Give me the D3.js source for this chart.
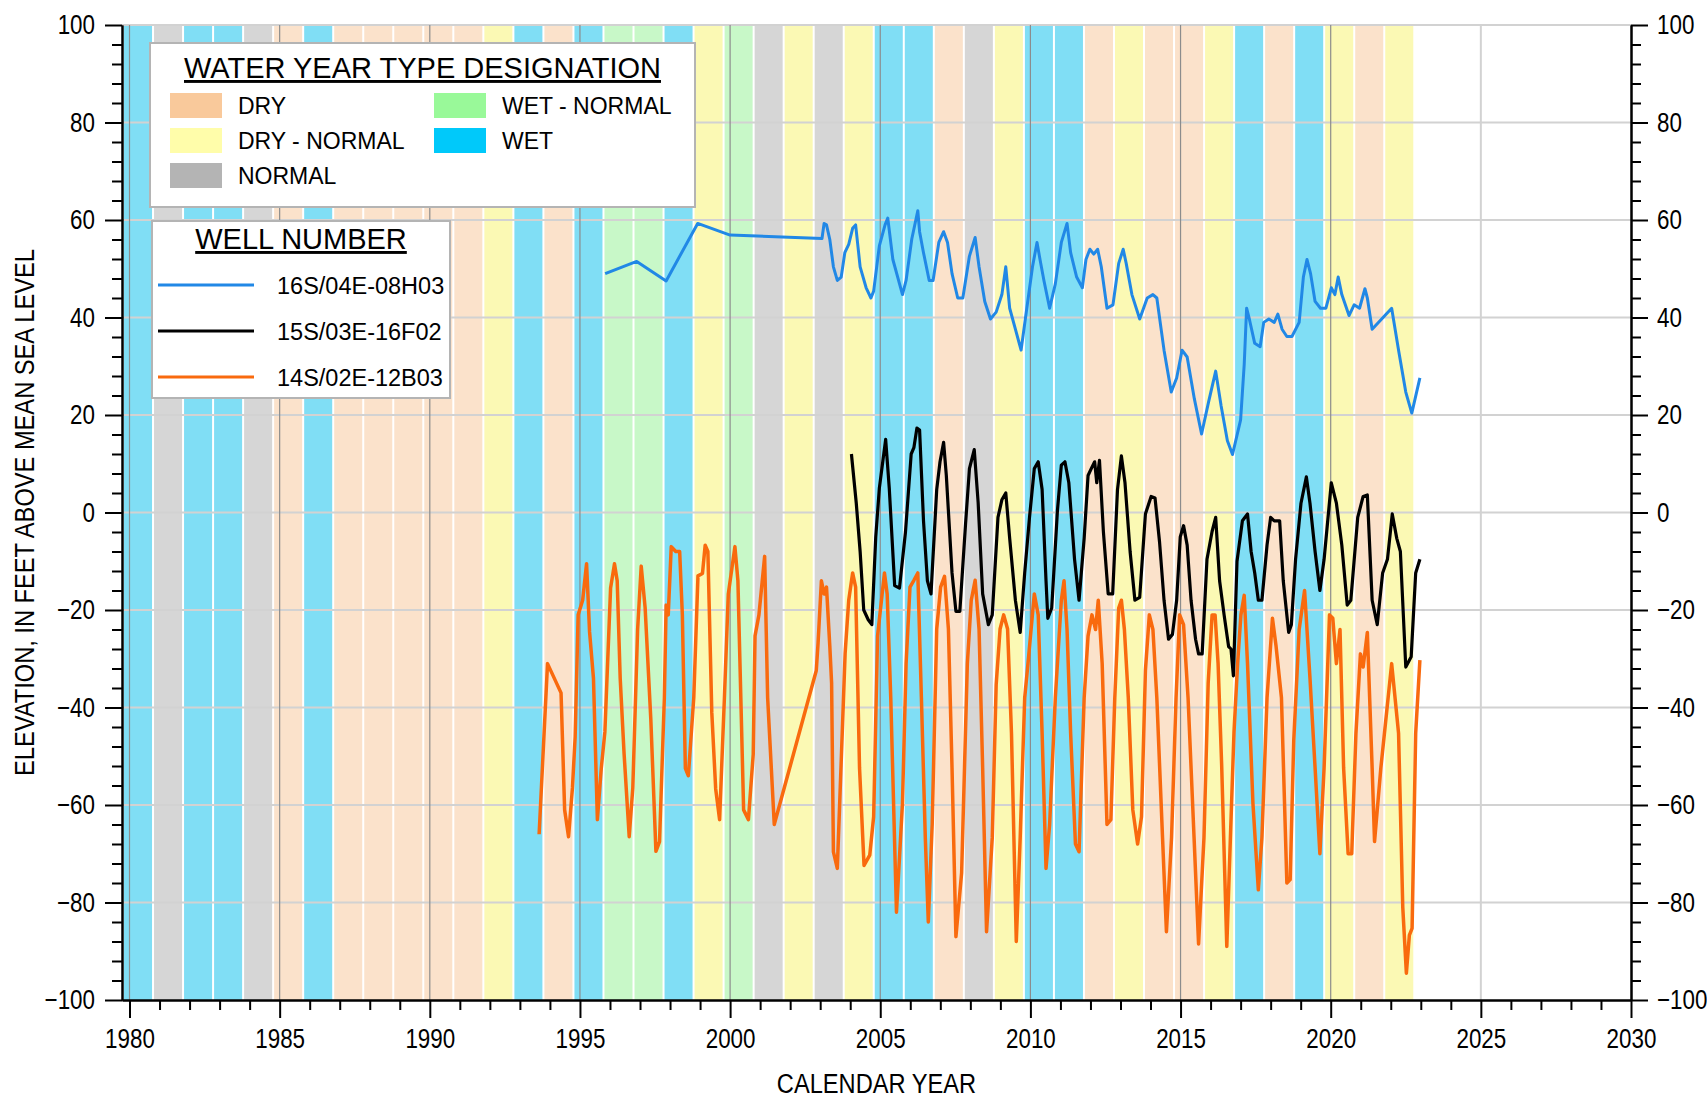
<!DOCTYPE html>
<html>
<head>
<meta charset="utf-8">
<script src="https://cdn.jsdelivr.net/npm/d3@7"></script>
<style>
  body { margin: 0; background: #fff; }
  svg { display: block; font-family: "Liberation Sans", Arial, sans-serif; }
</style>
</head>
<body>
<svg id="chart" width="1707" height="1097"></svg>
<script>
// water year type per water year (Oct - Sep)
const waterYears = d3.range(1980, 2023);
const yearTypes = [
  "WET", "NORMAL", "WET", "WET", "NORMAL", "DRY", "WET", "DRY", "DRY", "DRY",
  "DRY", "DRY", "DRY - NORMAL", "WET", "DRY", "WET", "WET - NORMAL", "WET - NORMAL", "WET", "DRY - NORMAL",
  "WET - NORMAL", "NORMAL", "DRY - NORMAL", "NORMAL", "DRY - NORMAL", "WET", "WET", "DRY", "NORMAL", "DRY - NORMAL",
  "WET", "WET", "DRY", "DRY - NORMAL", "DRY", "DRY", "DRY - NORMAL", "WET", "DRY", "WET",
  "DRY - NORMAL", "DRY", "DRY - NORMAL"
];

// legend order
const typeNames = ["DRY", "DRY - NORMAL", "NORMAL", "WET - NORMAL", "WET"];
const wellNames = ["16S/04E-08H03", "15S/03E-16F02", "14S/02E-12B03"];

// axis ticks
const yMajor = d3.range(-100, 101, 20);
const yMinor = d3.range(-100, 101, 4).filter(v => v % 20 != 0);
const xMajor = d3.range(1980, 2031, 5);
const xMinor = d3.range(1980, 2031, 1).filter(v => v % 5 != 0);

// well 16S/04E-08H03  [decimal year, elevation]
const well1 = [
  [1995.84,49],[1996.89,51.5],[1997.87,47.5],[1998.92,59.3],[2000.0,56.9],[2003.06,56.2],[2003.13,59.3],[2003.21,59.0],
  [2003.32,56],[2003.44,50.4],[2003.57,47.6],[2003.7,48.3],[2003.82,53.3],[2003.95,55],[2004.08,58.3],[2004.18,59],
  [2004.33,50.4],[2004.53,46.1],[2004.69,44],[2004.78,45.4],[2004.97,54.7],[2005.16,59],[2005.25,60.4],[2005.42,51.9],
  [2005.61,47.6],[2005.74,44.7],[2005.86,47.6],[2006.05,56.1],[2006.25,61.9],[2006.31,57.6],[2006.44,53.3],[2006.63,47.6],
  [2006.76,47.6],[2006.95,55.4],[2007.11,57.6],[2007.24,55.4],[2007.39,49],[2007.58,44],[2007.75,44],[2007.97,52.6],
  [2008.16,56.4],[2008.29,50.4],[2008.48,43.3],[2008.67,39.7],[2008.86,41.1],[2009.05,44.7],[2009.18,50.4],[2009.31,41.9],
  [2009.5,37.6],[2009.69,33.3],[2009.88,41.9],[2010.07,50.4],[2010.22,55.4],[2010.32,51.9],[2010.45,47.6],[2010.64,41.9],
  [2010.83,46.9],[2011.03,55.4],[2011.22,59.3],[2011.34,53.3],[2011.54,48.3],[2011.73,46.1],[2011.85,51.9],[2011.98,54],
  [2012.11,53],[2012.24,54],[2012.36,50.4],[2012.55,41.9],[2012.75,42.6],[2012.94,51.1],[2013.09,54],[2013.19,51.1],
  [2013.38,44.7],[2013.64,39.7],[2013.89,44],[2014.08,44.7],[2014.21,44],[2014.45,33.3],[2014.69,24.7],[2014.87,27.6],
  [2015.05,33.3],[2015.22,31.9],[2015.46,23.3],[2015.7,16.1],[2015.93,22.6],[2016.17,29],[2016.35,21.9],[2016.56,14.7],
  [2016.73,11.9],[2017.0,19],[2017.12,30.4],[2017.2,41.9],[2017.29,39.7],[2017.47,34.7],[2017.65,34],[2017.77,39],
  [2017.94,39.7],[2018.12,39],[2018.24,40.7],[2018.38,37.6],[2018.54,36.1],[2018.71,36.1],[2018.95,39],[2019.09,48.3],
  [2019.21,51.9],[2019.33,49],[2019.48,43.3],[2019.66,41.9],[2019.84,41.9],[2020.02,46.1],[2020.14,44.7],[2020.25,48.3],
  [2020.37,44.7],[2020.61,40.4],[2020.78,42.6],[2020.96,41.9],[2021.14,45.9],[2021.22,44],[2021.38,37.6],[2022.03,41.9],
  [2022.26,33.3],[2022.5,24.7],[2022.7,20.4],[2022.97,27.6]
];

// well 15S/03E-16F02
const well2 = [
  [2004.04,12],[2004.2,2],[2004.33,-8],[2004.45,-20],[2004.6,-22],[2004.72,-23],[2004.85,-5],[2004.97,5],
  [2005.18,15],[2005.3,5],[2005.48,-15],[2005.64,-15.5],[2005.84,-4],[2006.03,12],[2006.12,13.3],[2006.22,17.3],
  [2006.31,16.9],[2006.44,-1.7],[2006.57,-14],[2006.69,-16.7],[2006.88,4.7],[2006.99,10.4],[2007.11,14.4],[2007.2,7.6],
  [2007.39,-12.4],[2007.52,-20.3],[2007.65,-20.3],[2007.84,-2.4],[2007.97,9],[2008.13,12.9],[2008.26,2],[2008.41,-16.7],
  [2008.6,-23],[2008.73,-21],[2008.92,-1],[2009.05,2.6],[2009.18,4],[2009.31,-5.3],[2009.5,-18],[2009.66,-24.6],
  [2009.81,-12.4],[2009.97,-1],[2010.13,9],[2010.26,10.4],[2010.39,4.7],[2010.52,-14],[2010.58,-21.7],[2010.71,-19.6],
  [2010.9,0.4],[2011.03,9.7],[2011.15,10.4],[2011.28,6.1],[2011.47,-9.6],[2011.62,-18],[2011.79,-5.3],[2011.92,7.6],
  [2012.05,9.3],[2012.14,10.4],[2012.21,6.1],[2012.3,10.7],[2012.43,-3.9],[2012.59,-16.7],[2012.74,-16.7],[2012.9,4.7],
  [2013.03,11.6],[2013.15,6.1],[2013.32,-8],[2013.48,-18],[2013.64,-17.4],[2013.83,-0.3],[2014.02,3.3],[2014.15,3],
  [2014.3,-6],[2014.45,-18],[2014.6,-26],[2014.73,-25],[2014.87,-18],[2014.99,-5],[2015.1,-2.7],[2015.22,-6.7],
  [2015.35,-18],[2015.5,-26],[2015.6,-29],[2015.72,-29],[2015.88,-9.6],[2016.05,-3.9],[2016.17,-1],[2016.3,-14],
  [2016.45,-21],[2016.6,-27.5],[2016.68,-28],[2016.76,-33.5],[2016.88,-10],[2017.06,-1.7],[2017.23,-0.3],[2017.35,-8],
  [2017.47,-12.4],[2017.59,-18],[2017.71,-18],[2017.88,-6.7],[2018.0,-1],[2018.12,-1.7],[2018.3,-1.7],[2018.42,-14],
  [2018.6,-24.6],[2018.69,-23],[2018.83,-9.6],[2019.01,1.9],[2019.19,7.3],[2019.31,1.9],[2019.48,-8],[2019.64,-16],
  [2019.78,-9.6],[2020.02,6.1],[2020.19,1.9],[2020.37,-6.7],[2020.55,-19],[2020.67,-18],[2020.9,-1],[2021.08,3.3],
  [2021.22,3.6],[2021.38,-18],[2021.55,-23],[2021.73,-12.4],[2021.89,-9.6],[2022.05,-0.3],[2022.2,-5.3],[2022.32,-8],
  [2022.5,-31.7],[2022.68,-29.6],[2022.83,-12.4],[2022.97,-9.6]
];

// well 14S/02E-12B03
const well3 = [
  [1993.64,-66],[1993.92,-31],[1994.37,-37],[1994.49,-61],[1994.62,-66.5],[1994.75,-56.5],[1994.84,-46],[1994.94,-21],
  [1995.09,-18],[1995.22,-10.5],[1995.32,-24.5],[1995.45,-34],[1995.58,-63],[1995.71,-52.5],[1995.83,-45],[1996.02,-15.5],
  [1996.15,-10.5],[1996.24,-14],[1996.34,-34],[1996.47,-49.5],[1996.64,-66.5],[1996.76,-56.5],[1996.92,-24],[1997.04,-11],
  [1997.17,-19.5],[1997.36,-42.5],[1997.53,-69.5],[1997.65,-67.5],[1997.81,-38],[1997.87,-19],[1997.94,-21],[1998.04,-7],
  [1998.19,-8],[1998.32,-8],[1998.41,-21],[1998.51,-52.5],[1998.61,-54],[1998.79,-38],[1998.93,-13],[1999.08,-12.5],
  [1999.17,-6.7],[1999.26,-8],[1999.39,-41],[1999.52,-56.7],[1999.65,-63],[1999.81,-38],[1999.94,-16.7],[2000.07,-11],
  [2000.16,-7],[2000.26,-14],[2000.45,-61],[2000.61,-63],[2000.77,-49.6],[2000.83,-25.3],[2000.96,-21],[2001.15,-9],
  [2001.25,-38],[2001.47,-64],[2002.87,-32.4],[2002.93,-26.7],[2003.04,-14],[2003.13,-16.7],[2003.21,-15.3],[2003.32,-27.4],
  [2003.38,-35],[2003.44,-69.6],[2003.57,-73],[2003.7,-51],[2003.83,-28.9],[2003.95,-18],[2004.08,-12.4],[2004.18,-15.3],
  [2004.31,-52.4],[2004.46,-72.4],[2004.65,-70.3],[2004.78,-62.4],[2004.91,-25.3],[2005.04,-18],[2005.14,-12.4],[2005.23,-16.7],
  [2005.35,-38],[2005.54,-82],[2005.74,-59.6],[2005.86,-31],[2005.99,-15.3],[2006.12,-13.9],[2006.25,-12.4],[2006.37,-38],
  [2006.5,-66.7],[2006.6,-84],[2006.73,-63.9],[2006.88,-23.9],[2007.01,-15.3],[2007.14,-13.1],[2007.27,-23.9],[2007.39,-52.4],
  [2007.52,-87],[2007.71,-73.9],[2007.9,-31],[2008.03,-18],[2008.16,-13.9],[2008.29,-23.9],[2008.41,-52.4],[2008.54,-86],
  [2008.73,-66.7],[2008.86,-35.3],[2008.99,-23.9],[2009.11,-21],[2009.24,-23.9],[2009.37,-45.3],[2009.53,-88],[2009.66,-66.7],
  [2009.81,-38],[2009.94,-29.6],[2010.13,-16.7],[2010.26,-21],[2010.39,-45.3],[2010.52,-73],[2010.64,-64],[2010.83,-38],
  [2011.03,-18],[2011.12,-14],[2011.22,-24],[2011.34,-45.3],[2011.5,-68],[2011.62,-69.6],[2011.79,-38],[2011.92,-25.3],
  [2012.05,-21],[2012.17,-24],[2012.26,-18],[2012.39,-31],[2012.55,-64],[2012.68,-63],[2012.81,-38],[2012.94,-19.6],
  [2013.03,-18],[2013.13,-24],[2013.26,-38],[2013.41,-61],[2013.57,-68],[2013.7,-62.4],[2013.83,-32.4],[2013.96,-21],
  [2014.08,-24],[2014.21,-38],[2014.4,-66.7],[2014.53,-86],[2014.7,-66.7],[2014.85,-38],[2014.97,-21],[2015.1,-23],
  [2015.25,-38],[2015.45,-66.7],[2015.6,-88.5],[2015.78,-66.7],[2015.92,-35],[2016.05,-21],[2016.15,-21],[2016.25,-31],
  [2016.37,-52],[2016.54,-89],[2016.66,-66.7],[2016.78,-45],[2016.9,-31],[2017.01,-21],[2017.12,-17],[2017.23,-31],
  [2017.41,-59.6],[2017.59,-77.4],[2017.71,-66.7],[2017.88,-38],[2018.06,-21.7],[2018.18,-27.4],[2018.36,-38],[2018.54,-76],
  [2018.65,-75.3],[2018.77,-46.7],[2018.95,-24],[2019.13,-16],[2019.31,-34],[2019.48,-52.4],[2019.64,-70],[2019.78,-52.4],
  [2019.96,-21],[2020.07,-21.7],[2020.19,-31],[2020.31,-24],[2020.43,-52.4],[2020.58,-70],[2020.7,-70],[2020.84,-45.3],
  [2020.99,-29],[2021.08,-31.7],[2021.22,-24.6],[2021.38,-52.4],[2021.46,-67.5],[2021.67,-52.4],[2022.03,-31],[2022.26,-45.3],
  [2022.4,-81],[2022.52,-94.5],[2022.62,-86.7],[2022.71,-85.3],[2022.83,-45.3],[2022.97,-30.3]
];

const wells = [well1, well2, well3];
const wellColors = ["#2188E6", "#000000", "#F96A0E"];
const wellWidths = [3, 3.2, 3.5];

// colors: faded in the plot, full in the legend
const bandColor = {"DRY": "#FBE2CB", "DRY - NORMAL": "#FBF9B4", "NORMAL": "#D6D6D6", "WET - NORMAL": "#C8F8C8", "WET": "#80DEF5"};
const swatchColor = {"DRY": "#F9C99B", "DRY - NORMAL": "#FFFDAA", "NORMAL": "#B4B4B4", "WET - NORMAL": "#99F999", "WET": "#00C9FA"};

const svg = d3.select("#chart");
const plotLeft = 122, plotRight = 1631, plotTop = 25, plotBottom = 1000;

const xScale = d3.scaleLinear().domain([1979.75, 2030]).range([plotLeft, plotRight]);
const yScale = d3.scaleLinear().domain([-100, 100]).range([plotBottom, plotTop]);

// 가로 폭 줄인 글꼴 (condensed look)
function squeeze(sel, sx) {
  sel.each(function() {
    const t = d3.select(this);
    const x = +t.attr("x") || 0;
    t.attr("x", 0).attr("transform", "translate(" + x + ",0) scale(" + sx + ",1)");
  });
}

// water year bands
svg.append("g")
  .selectAll("rect")
  .data(waterYears)
  .enter()
  .append("rect")
  .attr("x", d => xScale(d - 0.25) + 2)
  .attr("y", plotTop)
  .attr("width", d => xScale(d + 0.75) - xScale(d - 0.25) - 2)
  .attr("height", plotBottom - plotTop)
  .attr("fill", (d, i) => bandColor[yearTypes[i]]);

// horizontal grid
svg.append("g")
  .selectAll("line")
  .data(yMajor.filter(v => v > -100))
  .enter()
  .append("line")
  .attr("x1", plotLeft).attr("x2", plotRight)
  .attr("y1", d => yScale(d)).attr("y2", d => yScale(d))
  .attr("stroke", "#d2d2d2")
  .attr("stroke-width", 2);

// vertical grid (darker where it crosses a band)
svg.append("g")
  .selectAll("line")
  .data(xMajor.filter(v => v < 2030))
  .enter()
  .append("line")
  .attr("x1", d => xScale(d)).attr("x2", d => xScale(d))
  .attr("y1", plotTop).attr("y2", plotBottom)
  .attr("stroke", d => d < 2023 ? "#8c8c8c" : "#d2d2d2")
  .attr("stroke-width", d => d < 2023 ? 1.2 : 2);

// well lines
const line = d3.line()
  .x(d => xScale(d[0]))
  .y(d => yScale(d[1]));

wells.forEach((w, i) => {
  svg.append("path")
    .datum(w)
    .attr("d", line)
    .attr("fill", "none")
    .attr("stroke", wellColors[i])
    .attr("stroke-width", wellWidths[i])
    .attr("stroke-linejoin", "round");
});

// axes
function styleAxis(g) {
  g.select(".domain").attr("stroke", "#000").attr("stroke-width", 2);
  g.selectAll(".tick line").attr("stroke", "#000").attr("stroke-width", 2);
  g.selectAll(".tick text").attr("fill", "#000").style("font-size", "28px")
    .style("font-family", "'Liberation Sans', Arial, sans-serif");
}

// left
svg.append("g")
  .attr("transform", "translate(" + plotLeft + ",0)")
  .call(d3.axisLeft(yScale).tickValues(yMinor).tickSize(10).tickFormat("").tickSizeOuter(0))
  .call(styleAxis);
const yLeft = svg.append("g")
  .attr("transform", "translate(" + plotLeft + ",0)")
  .call(d3.axisLeft(yScale).tickValues(yMajor).tickSize(17).tickPadding(10).tickSizeOuter(0))
  .call(styleAxis);
squeeze(yLeft.selectAll(".tick text"), 0.8);

// right
svg.append("g")
  .attr("transform", "translate(" + plotRight + ",0)")
  .call(d3.axisRight(yScale).tickValues(yMinor).tickSize(10).tickFormat("").tickSizeOuter(0))
  .call(styleAxis);
const yRight = svg.append("g")
  .attr("transform", "translate(" + plotRight + ",0)")
  .call(d3.axisRight(yScale).tickValues(yMajor).tickSize(17).tickPadding(9).tickSizeOuter(0))
  .call(styleAxis);
squeeze(yRight.selectAll(".tick text"), 0.8);

// bottom
svg.append("g")
  .attr("transform", "translate(0," + plotBottom + ")")
  .call(d3.axisBottom(xScale).tickValues(xMinor).tickSize(10).tickFormat("").tickSizeOuter(0))
  .call(styleAxis);
const xAxisG = svg.append("g")
  .attr("transform", "translate(0," + plotBottom + ")")
  .call(d3.axisBottom(xScale).tickValues(xMajor).tickSize(18).tickPadding(10).tickSizeOuter(0).tickFormat(d3.format("d")))
  .call(styleAxis);
squeeze(xAxisG.selectAll(".tick text"), 0.8);

// axis titles
svg.append("text")
  .attr("transform", "translate(" + (plotLeft + plotRight) / 2 + ",1093) scale(0.845,1)")
  .attr("text-anchor", "middle")
  .style("font-size", "28px")
  .text("CALENDAR YEAR");

svg.append("text")
  .attr("transform", "translate(34," + (plotTop + plotBottom) / 2 + ") rotate(-90) scale(0.845,1)")
  .attr("text-anchor", "middle")
  .style("font-size", "28px")
  .text("ELEVATION, IN FEET ABOVE MEAN SEA LEVEL");

// legend: water year type
const lg1 = svg.append("g");
lg1.append("rect")
  .attr("x", 150).attr("y", 43).attr("width", 545).attr("height", 164)
  .attr("fill", "#fff").attr("stroke", "#b4b4b4").attr("stroke-width", 2);
lg1.append("text")
  .attr("x", 422.5).attr("y", 78)
  .attr("text-anchor", "middle")
  .style("font-size", "29px")
  .style("text-decoration", "underline")
  .text("WATER YEAR TYPE DESIGNATION");

const lg1Items = lg1.selectAll(".item")
  .data(typeNames)
  .enter()
  .append("g")
  .attr("class", "item")
  .attr("transform", (d, i) => i < 3
    ? "translate(170," + (93 + i * 35) + ")"
    : "translate(434," + (93 + (i - 3) * 35) + ")");
lg1Items.append("rect")
  .attr("width", 52).attr("height", 25)
  .attr("fill", d => swatchColor[d]);
lg1Items.append("text")
  .attr("x", 68).attr("y", 20.5)
  .style("font-size", "23px")
  .text(d => d);

// legend: well number
const lg2 = svg.append("g");
lg2.append("rect")
  .attr("x", 152).attr("y", 221).attr("width", 298).attr("height", 177)
  .attr("fill", "#fff").attr("stroke", "#b4b4b4").attr("stroke-width", 2);
lg2.append("text")
  .attr("x", 301).attr("y", 249)
  .attr("text-anchor", "middle")
  .style("font-size", "29px")
  .style("text-decoration", "underline")
  .text("WELL NUMBER");

const lg2Items = lg2.selectAll(".item")
  .data(wellNames)
  .enter()
  .append("g")
  .attr("class", "item")
  .attr("transform", (d, i) => "translate(158," + (285 + i * 46) + ")");
lg2Items.append("line")
  .attr("x1", 0).attr("x2", 96)
  .attr("stroke", (d, i) => wellColors[i])
  .attr("stroke-width", 3);
lg2Items.append("text")
  .attr("x", 119).attr("y", 8.5)
  .style("font-size", "23.5px")
  .text(d => d);
</script>
</body>
</html>
